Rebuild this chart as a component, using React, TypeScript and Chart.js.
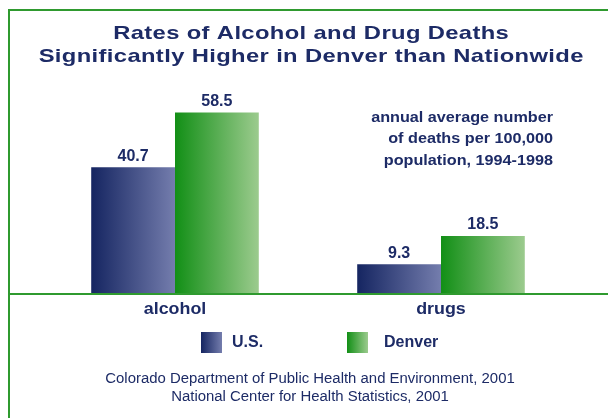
import React, { useEffect, useRef } from "react";
import { Chart, registerables } from "chart.js";

Chart.register(...registerables);

const categories = ["alcohol", "drugs"];
const seriesNames = ["U.S.", "Denver"];
const usValues = [40.7, 9.3];
const denverValues = [58.5, 18.5];
const titleLines = [
  "Rates of Alcohol and Drug Deaths",
  "Significantly Higher in Denver than Nationwide",
];
const noteLines = [
  "annual average number",
  "of deaths per 100,000",
  "population, 1994-1998",
];
const sourceLines = [
  "Colorado Department of Public Health and Environment, 2001",
  "National Center for Health Statistics, 2001",
];

const NAVY = "#1d2b66";
const GREEN_LINE = "#2f9a2f";
const gradStops = [
  ["#152561", "#747dad"],
  ["#128f16", "#9ccb8e"],
];
const CAT_PCT = 0.63;
const FONT = "'Liberation Sans', Arial, Helvetica, sans-serif";

function hGrad(c: CanvasRenderingContext2D, x0: number, x1: number, stops: string[]) {
  const g = c.createLinearGradient(x0, 0, x1, 0);
  g.addColorStop(0, stops[0]);
  g.addColorStop(1, stops[1]);
  return g;
}

function barFill(ds: number) {
  return (ctx: any) => {
    const chart = ctx.chart;
    const xs = chart.scales && chart.scales.x;
    if (!xs || ctx.type !== "data" || !xs.width) return gradStops[ds][0];
    const center = xs.getPixelForValue(ctx.dataIndex);
    const catW = xs.width / categories.length;
    const barW = (catW * CAT_PCT) / 2;
    const left = ds === 0 ? center - barW : center;
    return hGrad(chart.ctx, left, left + barW, gradStops[ds]);
  };
}

function drawText(
  c: CanvasRenderingContext2D,
  text: string,
  x: number,
  y: number,
  font: string,
  align: CanvasTextAlign,
  sx = 1,
  ls = 0
) {
  c.save();
  c.translate(x, y);
  c.scale(sx, 1);
  c.font = font;
  (c as any).letterSpacing = `${ls}px`;
  c.textAlign = align;
  c.textBaseline = "middle";
  c.fillStyle = NAVY;
  let dx = 0;
  if (ls && align === "center") dx = ls / 2;
  if (ls && align === "right") dx = ls;
  c.fillText(text, dx, 0);
  c.restore();
}

const decorPlugin = {
  id: "decor",
  beforeDraw(chart: any) {
    const c: CanvasRenderingContext2D = chart.ctx;
    c.save();
    c.fillStyle = "#ffffff";
    c.fillRect(0, 0, chart.width, chart.height);
    c.restore();
  },
  afterDraw(chart: any) {
    const c: CanvasRenderingContext2D = chart.ctx;
    const xs = chart.scales.x;
    const ys = chart.scales.y;
    const base = ys.getPixelForValue(0);
    c.save();
    // frame
    c.strokeStyle = GREEN_LINE;
    c.lineWidth = 2;
    c.beginPath();
    c.moveTo(9, 418);
    c.lineTo(9, 10);
    c.lineTo(608, 10);
    c.stroke();
    // baseline
    c.beginPath();
    c.moveTo(8, base + 1);
    c.lineTo(608, base + 1);
    c.stroke();
    c.restore();

    // title
    titleLines.forEach((t, i) =>
      drawText(c, t, 311, 34 + i * 23, `bold 19px ${FONT}`, "center", 1.25, 0.3)
    );

    // note
    noteLines.forEach((t, i) =>
      drawText(c, t, 553, 117.5 + i * 21.5, `bold 15px ${FONT}`, "right", 1.08)
    );

    // values
    chart.data.datasets.forEach((ds: any, di: number) => {
      const meta = chart.getDatasetMeta(di);
      meta.data.forEach((el: any, i: number) => {
        drawText(c, String(ds.data[i]), el.x, el.y - 11, `bold 16px ${FONT}`, "center");
      });
    });

    // categories
    categories.forEach((cat, i) =>
      drawText(c, cat, xs.getPixelForValue(i), base + 16, `bold 17px ${FONT}`, "center", 1.05)
    );

    // legend
    const legend = [
      { x: 201, tx: 232 },
      { x: 347, tx: 384 },
    ];
    legend.forEach((l, i) => {
      c.save();
      c.fillStyle = hGrad(c, l.x, l.x + 21, gradStops[i]);
      c.fillRect(l.x, 332, 21, 21);
      c.restore();
      drawText(c, seriesNames[i], l.tx, 343, `bold 16px ${FONT}`, "left");
    });

    // source
    sourceLines.forEach((t, i) =>
      drawText(c, t, 310, 379 + i * 18, `14px ${FONT}`, "center", 1.065)
    );
  },
};

export default function App() {
  const ref = useRef<HTMLCanvasElement>(null);
  useEffect(() => {
    if (!ref.current) return;
    const chart = new Chart(ref.current, {
      type: "bar",
      data: {
        labels: categories,
        datasets: [
          { label: seriesNames[0], data: usValues, backgroundColor: barFill(0), borderWidth: 0 },
          { label: seriesNames[1], data: denverValues, backgroundColor: barFill(1), borderWidth: 0 },
        ],
      },
      options: {
        responsive: false,
        animation: false,
        devicePixelRatio: 1,
        layout: { padding: { left: 42, right: 34, top: 46, bottom: 125 } },
        datasets: { bar: { barPercentage: 1, categoryPercentage: CAT_PCT } },
        scales: {
          x: { display: false },
          y: { display: false, min: 0, max: 80 },
        },
        plugins: { legend: { display: false }, tooltip: { enabled: false }, title: { display: false } },
      },
      plugins: [decorPlugin],
    });
    return () => chart.destroy();
  }, []);
  return (
    <div style={{ position: "fixed", left: 0, top: 0, width: 608, height: 418 }}>
      <canvas ref={ref} width={608} height={418} />
    </div>
  );
}
